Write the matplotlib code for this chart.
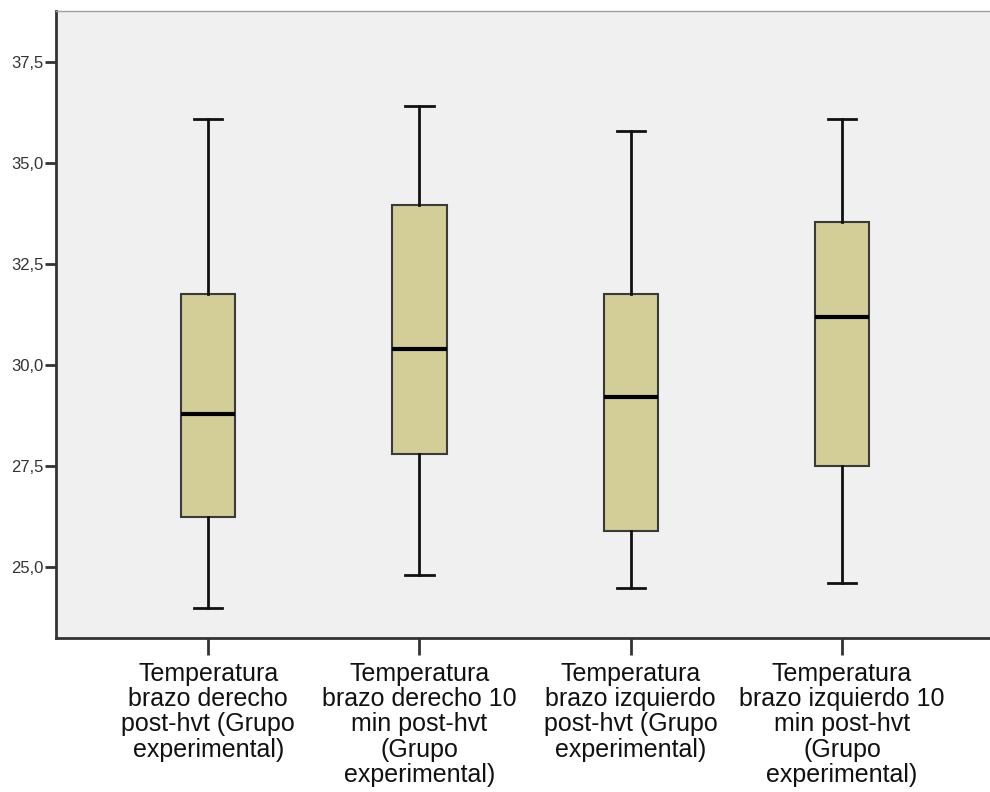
import matplotlib
matplotlib.use("Agg")
import matplotlib.pyplot as plt

labels = [
    "Temperatura\nbrazo derecho\npost-hvt (Grupo\nexperimental)",
    "Temperatura\nbrazo derecho 10\nmin post-hvt\n(Grupo\nexperimental)",
    "Temperatura\nbrazo izquierdo\npost-hvt (Grupo\nexperimental)",
    "Temperatura\nbrazo izquierdo 10\nmin post-hvt\n(Grupo\nexperimental)",
]
whislo = [24.0, 24.8, 24.5, 24.6]
q1 = [26.25, 27.8, 25.9, 27.5]
med = [28.8, 30.4, 29.2, 31.2]
q3 = [31.75, 33.95, 31.75, 33.55]
whishi = [36.1, 36.4, 35.8, 36.1]
yticks = [25.0, 27.5, 30.0, 32.5, 35.0, 37.5]
ytick_labels = ["25,0", "27,5", "30,0", "32,5", "35,0", "37,5"]

plt.rcParams['font.family'] = ['Liberation Sans', 'DejaVu Sans']

fig = plt.figure(figsize=(9.9, 7.92), dpi=100)
ax = fig.add_axes([0.0566, 0.1944, 0.9434, 0.7917])
ax.set_facecolor('#f0f0f0')

stats = []
for i in range(4):
    stats.append(dict(label=labels[i], whislo=whislo[i], q1=q1[i], med=med[i],
                      q3=q3[i], whishi=whishi[i], fliers=[]))

positions = [1, 2, 3, 4]
ax.bxp(stats, positions=positions, widths=0.256, patch_artist=True,
       showfliers=False,
       boxprops=dict(facecolor='#d3ce97', edgecolor='#3a3a3a', linewidth=1.5),
       medianprops=dict(color='black', linewidth=3),
       whiskerprops=dict(color='#111111', linewidth=2),
       capprops=dict(color='#111111', linewidth=2),
       capwidths=0.133)

ax.set_xlim(0.28, 4.70)
ax.set_ylim(23.25, 38.76)
ax.set_yticks(yticks)
ax.set_yticklabels(ytick_labels, fontsize=12, color='#333333')
ax.set_xticks(positions)
ax.set_xticklabels(labels, fontsize=18, color='#111111', linespacing=1.07)

ax.tick_params(axis='y', length=8, width=2, color='#333333', pad=1)
ax.tick_params(axis='x', length=12, width=2, color='#333333', pad=5)

ax.spines['right'].set_visible(False)
ax.spines['top'].set_color('#a0a0a0')
ax.spines['top'].set_linewidth(1)
ax.spines['left'].set_color('#333333')
ax.spines['left'].set_linewidth(2)
ax.spines['bottom'].set_color('#333333')
ax.spines['bottom'].set_linewidth(2)

fig.savefig('out.png', dpi=100, facecolor='white')
